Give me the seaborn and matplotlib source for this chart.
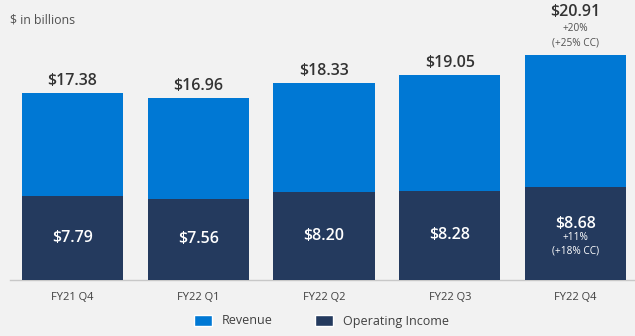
import matplotlib
matplotlib.use("Agg")
import matplotlib.pyplot as plt
import seaborn as sns
import pandas as pd
from matplotlib.patches import Patch

quarters = ["FY21 Q4", "FY22 Q1", "FY22 Q2", "FY22 Q3", "FY22 Q4"]
revenue = [17.38, 16.96, 18.33, 19.05, 20.91]
operating_income = [7.79, 7.56, 8.20, 8.28, 8.68]
revenue_growth = ["", "", "", "", "+20%\n(+25% CC)"]
income_growth = ["", "", "", "", "+11%\n(+18% CC)"]

BG = "#f2f2f2"
BLUE = "#0078d4"
NAVY = "#243a5e"
TEXT = "#404040"

sns.set_theme(style="white")
plt.rcParams["font.family"] = ["Open Sans", "DejaVu Sans"]

df = pd.DataFrame({"quarter": quarters, "revenue": revenue, "income": operating_income})

fig = plt.figure(figsize=(6.35, 3.36), dpi=100, facecolor=BG)
ax = fig.add_axes([10 / 635, 1 - 280 / 336, 625 / 635, 250 / 336])
ax.set_facecolor(BG)

sns.barplot(data=df, x="quarter", y="revenue", color=BLUE, saturation=1,
            width=0.805, linewidth=0, ax=ax, zorder=2)
sns.barplot(data=df, x="quarter", y="income", color=NAVY, saturation=1,
            width=0.805, linewidth=0, ax=ax, zorder=3)

ax.set_xlim(-0.497, 4.473)
ax.set_ylim(0, 250 / 10.75)
for s in ["top", "right", "left"]:
    ax.spines[s].set_visible(False)
ax.spines["bottom"].set_color("#c8c8c8")
ax.spines["bottom"].set_linewidth(1.0)
ax.set_yticks([])
ax.set_xlabel("")
ax.set_ylabel("")
ax.tick_params(axis="x", length=0, pad=9, labelsize=8, labelcolor=TEXT)

for i, (r, inc) in enumerate(zip(revenue, operating_income)):
    top_note = revenue_growth[i]
    if top_note:
        ax.annotate(top_note, (i, r), xytext=(0, 5), textcoords="offset points",
                    ha="center", va="bottom", fontsize=7.3, color="#505050",
                    linespacing=1.4, zorder=5)
        ax.annotate(f"${r:.2f}", (i, r), xytext=(0, 25), textcoords="offset points",
                    ha="center", va="bottom", fontsize=11.5, fontweight="semibold",
                    color="#333333", zorder=5)
    else:
        ax.annotate(f"${r:.2f}", (i, r), xytext=(0, 3), textcoords="offset points",
                    ha="center", va="bottom", fontsize=11.5, fontweight="semibold",
                    color="#333333", zorder=5)
    note = income_growth[i]
    if note:
        ax.text(i, inc * 0.6, f"${inc:.2f}", ha="center", va="center",
                fontsize=11.5, fontweight="semibold", color="white", zorder=5)
        ax.text(i, inc * 0.6 - 0.72, note, ha="center", va="top",
                fontsize=7.3, color="white", linespacing=1.4, zorder=5)
    else:
        ax.text(i, inc / 2, f"${inc:.2f}", ha="center", va="center",
                fontsize=11.5, fontweight="semibold", color="white", zorder=5)

fig.text(10 / 635, 1 - 20 / 336, "$ in billions", ha="left", va="center",
         fontsize=8.8, color="#505050")

handles = [Patch(facecolor=BLUE, label="Revenue"),
           Patch(facecolor=NAVY, label="Operating Income")]
fig.legend(handles=handles, loc="center", bbox_to_anchor=(0.5 + 4 / 635, 1 - 321 / 336),
           ncol=2, frameon=False, fontsize=9, labelcolor=TEXT,
           handlelength=1.45, handleheight=0.95, columnspacing=3.4, handletextpad=0.75)

fig.savefig("out.png", dpi=100, facecolor=BG)
